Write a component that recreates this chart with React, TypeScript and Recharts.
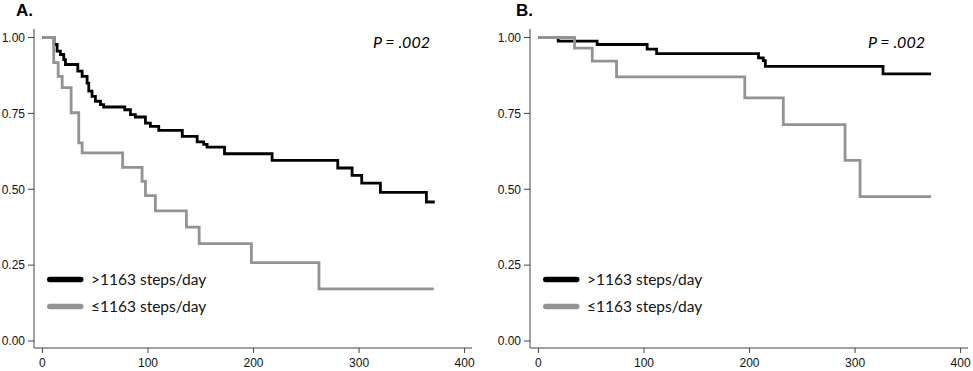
import React from 'react';
import { LineChart, Line, XAxis, YAxis, Legend } from 'recharts';

// Kaplan-Meier curves (days, survival probability)
const highName = '>1163 steps/day';
const lowName = '≤1163 steps/day';

const aHighT = [0, 11, 13.9, 17, 20.2, 21.8, 33.5, 37.6, 42.3, 43.9, 47, 50.2, 55, 58, 78, 83.4, 88, 97.6, 102.3, 110.2, 132.5, 146.6, 152.8, 156, 172.5, 217.6, 279.8, 293.4, 302.5, 320.2, 363.8, 371.7];
const aHighS = [1, 0.977, 0.955, 0.944, 0.927, 0.911, 0.889, 0.872, 0.85, 0.823, 0.806, 0.79, 0.779, 0.771, 0.762, 0.746, 0.738, 0.718, 0.707, 0.694, 0.674, 0.656, 0.648, 0.639, 0.617, 0.595, 0.57, 0.546, 0.52, 0.49, 0.458, 0.458];
const aLowT = [0, 10.7, 14.9, 18.7, 27.2, 34.4, 37.6, 76, 94.4, 97.6, 107, 136.4, 148.5, 198, 262, 370.8];
const aLowS = [1, 0.917, 0.872, 0.835, 0.752, 0.653, 0.62, 0.572, 0.526, 0.479, 0.429, 0.375, 0.321, 0.258, 0.172, 0.172];

const bHighT = [0, 18.7, 55.6, 103, 112, 208.5, 213, 215, 326.5, 372];
const bHighS = [1, 0.988, 0.977, 0.962, 0.947, 0.933, 0.924, 0.905, 0.88, 0.88];
const bLowT = [0, 34.2, 51, 74, 195.5, 232, 290.5, 304.7, 372];
const bLowS = [1, 0.965, 0.922, 0.87, 0.801, 0.713, 0.595, 0.476, 0.476];

const xTicks = [0, 100, 200, 300, 400];
const yTicks = [0, 0.25, 0.5, 0.75, 1];
const pLabel = '.002';

const toPoints = (t: number[], s: number[]) => t.map((v, i) => ({ t: v, s: s[i] }));

const BLACK = '#000';
const GRAY = '#939393';
const AXIS = '#444';

const KmLegend = (props: any) => {
  const payload = props.payload || [];
  const order = [highName, lowName];
  const items = order
    .map((n) => payload.find((p: any) => p.value === n))
    .filter(Boolean);
  return (
    <div>
      {items.map((p: any) => (
        <div key={p.value} style={{ display: 'flex', alignItems: 'center', height: 27 }}>
          <svg width={44} height={27}>
            <line x1={2.75} x2={33.75} y1={13.5} y2={13.5} stroke={p.color} strokeWidth={5.5} strokeLinecap="round" />
          </svg>
          <span style={{ fontFamily: 'Lato, sans-serif', fontSize: 15.5, color: '#111' }}>{p.value}</span>
        </div>
      ))}
    </div>
  );
};

interface PanelProps {
  highT: number[];
  highS: number[];
  lowT: number[];
  lowS: number[];
  width: number;
  right: number;
}

const Panel: React.FC<PanelProps> = ({ highT, highS, lowT, lowS, width, right }) => {
  const high = toPoints(highT, highS);
  const low = toPoints(lowT, lowS);
  return (
    <LineChart width={width} height={371} margin={{ top: 29, right, bottom: 0, left: 0 }}>
      <XAxis
        type="number"
        dataKey="t"
        domain={[-8, 407]}
        ticks={xTicks}
        allowDataOverflow
        height={23}
        stroke={AXIS}
        tickSize={5}
        tickMargin={5}
        tick={{ fill: '#111', fontSize: 12, fontFamily: 'Liberation Sans, Arial, sans-serif' }}
      />
      <YAxis
        type="number"
        dataKey="s"
        domain={[-0.023, 1.028]}
        ticks={yTicks}
        allowDataOverflow
        width={34}
        stroke={AXIS}
        tickSize={6}
        tickMargin={3}
        tickFormatter={(v: number) => v.toFixed(2)}
        tick={{ fill: '#111', fontSize: 12, fontFamily: 'Liberation Sans, Arial, sans-serif' }}
      />
      <Legend
        layout="vertical"
        align="center"
        verticalAlign="middle"
        content={KmLegend}
        wrapperStyle={{ left: 47, top: 265.5, width: 'auto' }}
      />
      <Line
        data={high}
        dataKey="s"
        name={highName}
        type="stepAfter"
        stroke={BLACK}
        strokeWidth={2.8}
        dot={false}
        isAnimationActive={false}
      />
      <Line
        data={low}
        dataKey="s"
        name={lowName}
        type="stepAfter"
        stroke={GRAY}
        strokeWidth={2.8}
        dot={false}
        isAnimationActive={false}
      />
    </LineChart>
  );
};

const letterStyle: React.CSSProperties = {
  position: 'absolute',
  top: 2,
  fontFamily: 'Liberation Sans, Arial, sans-serif',
  fontWeight: 'bold',
  fontSize: 17,
  lineHeight: '17px',
  color: '#000',
};

const pStyle: React.CSSProperties = {
  position: 'absolute',
  top: 34,
  fontFamily: 'Lato, sans-serif',
  fontStyle: 'italic',
  fontSize: 16,
  lineHeight: '16px',
  color: '#000',
  whiteSpace: 'pre',
};

export default function App() {
  return (
    <div style={{ position: 'absolute', left: 0, top: 0, width: 973, height: 371, background: '#fff', overflow: 'hidden' }}>
      <div style={{ position: 'absolute', left: 0, top: 0 }}>
        <Panel highT={aHighT} highS={aHighS} lowT={aLowT} lowS={aLowS} width={486} right={14} />
      </div>
      <div style={{ position: 'absolute', left: 496, top: 0 }}>
        <Panel highT={bHighT} highS={bHighS} lowT={bLowT} lowS={bLowS} width={477} right={5} />
      </div>
      <div style={{ ...letterStyle, left: 16 }}>A.</div>
      <div style={{ ...letterStyle, left: 516 }}>B.</div>
      <div style={{ ...pStyle, left: 373 }}>P = {pLabel}</div>
      <div style={{ ...pStyle, left: 868 }}>P = {pLabel}</div>
    </div>
  );
}
